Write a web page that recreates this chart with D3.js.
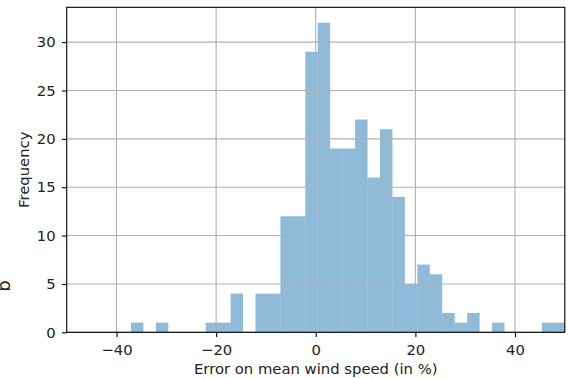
<!DOCTYPE html>
<html>
<head>
<meta charset="utf-8">
<script src="https://cdn.jsdelivr.net/npm/d3@7"></script>
<style>
  body { margin: 0; background: #fff; }
  svg { display: block; font-family: "DejaVu Sans", sans-serif; }
</style>
</head>
<body>
<div id="app"></div>
<script>
// histogram bin edges (lower edge of each bin, plus final upper edge)
const binEdges = [-37.1, -34.6, -32.1, -29.6, -27.1, -24.6, -22.1, -19.6, -17.1, -14.6,
  -12.1, -9.6, -7.1, -4.6, -2.1, 0.4, 2.9, 5.4, 7.9, 10.4, 12.9, 15.4, 17.9, 20.4,
  22.9, 25.4, 27.9, 30.4, 32.9, 35.4, 37.9, 40.4, 42.9, 45.4, 47.9, 50.4];
const counts = [1, 0, 1, 0, 0, 0, 1, 1, 4, 0, 4, 4, 12, 12, 29, 32, 19, 19, 22, 16,
  21, 14, 5, 7, 6, 2, 1, 2, 0, 1, 0, 0, 0, 1, 1];
const xTicks = [-40, -20, 0, 20, 40];
const yTicks = [0, 5, 10, 15, 20, 25, 30];

const width = 569;
const height = 379;
const marginTop = 7.3;
const marginRight = 4.2;
const marginBottom = 46.7;
const marginLeft = 66.7;
const fontSize = 14.8;

const bins = counts.map((c, i) => ({x0: binEdges[i], x1: binEdges[i + 1], n: c}));

// 比例尺
const x = d3.scaleLinear()
  .domain([-50, 50])
  .range([marginLeft, width - marginRight]);

const y = d3.scaleLinear()
  .domain([0, 33.6])
  .range([height - marginBottom, marginTop]);

const svg = d3.select("#app")
  .append("svg")
  .attr("width", width)
  .attr("height", height)
  .attr("viewBox", [0, 0, width, height]);

svg.append("clipPath")
    .attr("id", "plot")
  .append("rect")
    .attr("x", marginLeft)
    .attr("y", marginTop)
    .attr("width", width - marginRight - marginLeft)
    .attr("height", height - marginBottom - marginTop);

// bars
svg.append("g")
    .attr("clip-path", "url(#plot)")
    .attr("fill", "#1f77b4")
    .attr("fill-opacity", 0.5)
  .selectAll("rect")
  .data(bins.filter(d => d.n > 0))
  .join("rect")
    .attr("x", d => x(d.x0))
    .attr("width", d => x(d.x1) - x(d.x0))
    .attr("y", d => y(d.n))
    .attr("height", d => y(0) - y(d.n));

// grid (drawn above the bars, like matplotlib)
svg.append("g")
    .attr("stroke", "#b0b0b0")
    .attr("stroke-width", 1.1)
    .call(g => g.append("g")
      .selectAll("line")
      .data(xTicks)
      .join("line")
        .attr("x1", d => x(d))
        .attr("x2", d => x(d))
        .attr("y1", marginTop)
        .attr("y2", height - marginBottom))
    .call(g => g.append("g")
      .selectAll("line")
      .data(yTicks)
      .join("line")
        .attr("y1", d => y(d))
        .attr("y2", d => y(d))
        .attr("x1", marginLeft)
        .attr("x2", width - marginRight));

// 坐标轴
svg.append("g")
    .attr("transform", `translate(0,${height - marginBottom})`)
    .call(d3.axisBottom(x).tickValues(xTicks).tickSize(4.8).tickPadding(7.5).tickSizeOuter(0)
      .tickFormat(d => d < 0 ? "\u2212" + Math.abs(d) : d))
    .call(g => g.select(".domain").remove())
    .call(g => g.selectAll("line").attr("stroke", "#000").attr("stroke-width", 1.1))
    .call(g => g.selectAll("text").attr("font-size", fontSize).attr("fill", "#222")
      .attr("font-family", "DejaVu Sans"));

svg.append("g")
    .attr("transform", `translate(${marginLeft},0)`)
    .call(d3.axisLeft(y).tickValues(yTicks).tickSize(4.8).tickPadding(6.3).tickSizeOuter(0))
    .call(g => g.select(".domain").remove())
    .call(g => g.selectAll("line").attr("stroke", "#000").attr("stroke-width", 1.1))
    .call(g => g.selectAll("text").attr("font-size", fontSize).attr("fill", "#222")
      .attr("font-family", "DejaVu Sans"));

// frame
svg.append("rect")
    .attr("x", marginLeft)
    .attr("y", marginTop)
    .attr("width", width - marginRight - marginLeft)
    .attr("height", height - marginBottom - marginTop)
    .attr("fill", "none")
    .attr("stroke", "#000")
    .attr("stroke-width", 1.1);

// 标签
svg.append("text")
    .attr("x", (marginLeft + width - marginRight) / 2)
    .attr("y", 373.5)
    .attr("text-anchor", "middle")
    .attr("font-size", fontSize)
    .attr("fill", "#222")
    .text("Error on mean wind speed (in %)");

svg.append("text")
    .attr("transform", `translate(28.5,${(marginTop + height - marginBottom) / 2}) rotate(-90)`)
    .attr("text-anchor", "middle")
    .attr("font-size", fontSize)
    .attr("fill", "#222")
    .text("Frequency");

// clipped label from a neighbouring panel
svg.append("text")
    .attr("transform", "translate(10,286) rotate(-90)")
    .attr("text-anchor", "middle")
    .attr("font-size", 18)
    .attr("fill", "#222")
    .text("b");
</script>
</body>
</html>
